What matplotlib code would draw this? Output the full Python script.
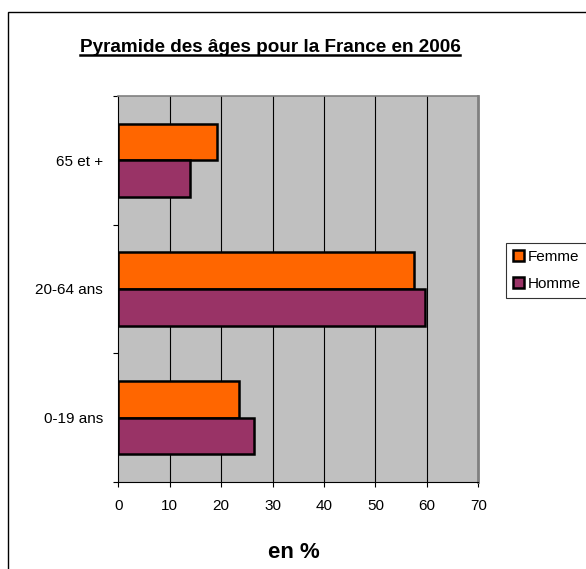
import matplotlib
matplotlib.use("Agg")
import matplotlib.pyplot as plt
import numpy as np
from matplotlib.lines import Line2D
from matplotlib.patches import Rectangle

plt.rcParams['font.family'] = ['Liberation Sans', 'DejaVu Sans']

categories = ["0-19 ans", "20-64 ans", "65 et +"]
femme = [23.5, 57.5, 19.1]
homme = [26.3, 59.7, 14.0]
xticks = [0, 10, 20, 30, 40, 50, 60, 70]

fig = plt.figure(figsize=(5.86, 5.69), dpi=100)
fig.patch.set_facecolor("white")
# chart outer border
fig.add_artist(Rectangle((8 / 586, -0.01), 0.99, 1 - 11.5 / 569 + 0.01,
                         transform=fig.transFigure, fill=False,
                         edgecolor="black", linewidth=1.0))

ax = fig.add_axes([118.3 / 586, 87 / 569, 360 / 586, 386 / 569])
ax.set_facecolor("#c0c0c0")

y = np.arange(len(categories))
h = 0.285
ax.barh(y + h / 2, femme, height=h, color="#ff6600", edgecolor="black",
        linewidth=1.8, label="Femme", zorder=3)
ax.barh(y - h / 2, homme, height=h, color="#993366", edgecolor="black",
        linewidth=1.8, label="Homme", zorder=3)

ax.set_xlim(0, 70)
ax.set_ylim(-0.5, 2.5)
ax.set_xticks(xticks)
ax.set_xticklabels([str(v) for v in xticks], fontsize=11)
ax.set_yticks(y)
ax.set_yticklabels(categories, fontsize=11)
ax.tick_params(axis="y", length=0, pad=11)
ax.set_yticks([-0.5, 0.5, 1.5, 2.5], minor=True)
ax.tick_params(axis="y", which="minor", length=3.6, direction="out", width=0.8)
ax.tick_params(axis="x", length=3.6, direction="out", width=0.8, pad=9)
for v in xticks[1:-1]:
    ax.axvline(v, color="black", linewidth=0.8, zorder=1)

ax.spines["left"].set_color("black")
ax.spines["bottom"].set_color("black")
ax.spines["top"].set_color("#808080")
ax.spines["right"].set_color("#808080")
ax.spines["right"].set_linewidth(2)
ax.spines["top"].set_linewidth(1.2)

fig.text(294 / 586, 1 - 553 / 569, "en %", ha="center", va="center",
         fontsize=16, fontweight="bold")

leg = ax.legend(loc="upper left", bbox_to_anchor=(506 / 586, 1 - 243 / 569),
                bbox_transform=fig.transFigure, fontsize=11, frameon=True,
                fancybox=False, edgecolor="black", handlelength=0.7,
                handleheight=0.7, handletextpad=0.3, borderpad=0.45,
                labelspacing=0.85, borderaxespad=0)
leg.get_frame().set_linewidth(0.8)

title = fig.text(270 / 586, 1 - 47 / 569, "Pyramide des âges pour la France en 2006",
                 ha="center", va="center", fontsize=13.6, fontweight="bold")
fig.canvas.draw()
bb = title.get_window_extent().transformed(fig.transFigure.inverted())
uy = bb.y0 + 0.1 * (bb.y1 - bb.y0) - 1.5 / 569
fig.add_artist(Line2D([bb.x0, bb.x1], [uy, uy], transform=fig.transFigure,
                      color="black", linewidth=1.8))

fig.savefig("out.png", dpi=100)
